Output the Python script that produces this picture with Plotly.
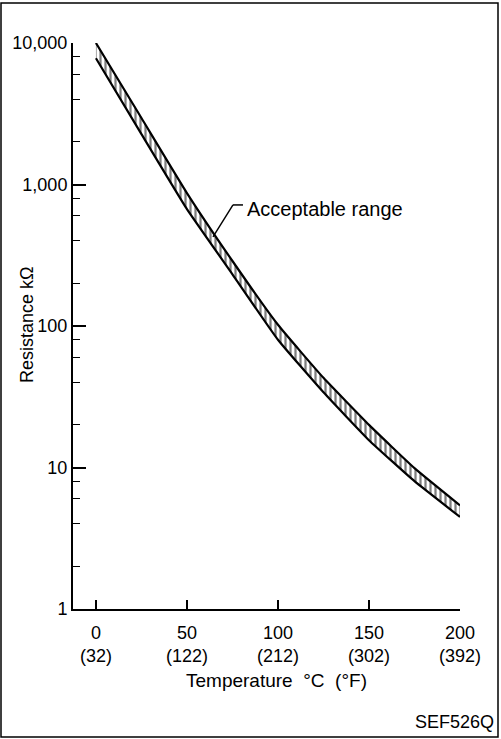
import math

import plotly.graph_objects as go

# temperature (deg C) and resistance band edges (kOhm)
temp_c = [0, 25, 50, 75, 100, 125, 150, 175, 200]
upper_kohm = [10000, 2950, 870, 288, 102, 43, 20, 9.9, 5.4]
lower_kohm = [7800, 2270, 670, 232, 80, 34, 15.6, 8.0, 4.47]

x_ticks = [0, 50, 100, 150, 200]
x_tick_text = ["0<br>(32)", "50<br>(122)", "100<br>(212)", "150<br>(302)", "200<br>(392)"]
y_ticks = [1, 10, 100, 1000, 10000]
y_tick_text = ["1", "10", "100", "1,000", "10,000"]
y_minor = [m * 10 ** d for d in range(4) for m in (2, 4, 6, 8)]

# point on the band the "Acceptable range" leader touches
label_temp = 64.3
label_kohm = 426

FONT = "Liberation Sans, Arial, sans-serif"

# plot area in pixels (501 x 739 page)
W, H = 501, 739
L, R, T, B = 73, 41, 43, 130
pw, ph = W - L - R, H - T - B


def px(x):
    return (x - L) / pw


def py(y):
    return (H - B - y) / ph


fig = go.Figure()
fig.add_trace(
    go.Scatter(
        x=temp_c,
        y=lower_kohm,
        mode="lines",
        line=dict(color="black", width=2.2, shape="spline", smoothing=0.4),
        showlegend=False,
        hoverinfo="skip",
    )
)
fig.add_trace(
    go.Scatter(
        x=temp_c,
        y=upper_kohm,
        mode="lines",
        fill="tonexty",
        fillcolor="white",
        fillpattern=dict(shape="|", fgcolor="black", bgcolor="white", size=5, solidity=0.45),
        line=dict(color="black", width=2.2, shape="spline", smoothing=0.4),
        showlegend=False,
        hoverinfo="skip",
    )
)

leader = dict(color="black", width=1.5)

fig.update_layout(
    width=W,
    height=H,
    margin=dict(l=L, r=R, t=T, b=B, pad=0),
    paper_bgcolor="white",
    plot_bgcolor="white",
    font=dict(family=FONT, size=18, color="black"),
    xaxis=dict(
        range=[-12.6, 200],
        tickvals=x_ticks,
        ticktext=x_tick_text,
        ticks="inside",
        ticklen=9,
        tickwidth=1.5,
        tickcolor="black",
        showline=True,
        linecolor="black",
        linewidth=2,
        showgrid=False,
        zeroline=False,
        ticklabelstandoff=6,
        tickfont=dict(size=18),
    ),
    yaxis=dict(
        type="log",
        range=[0, 4],
        tickvals=y_ticks,
        ticktext=y_tick_text,
        ticks="inside",
        ticklen=13,
        tickwidth=1.5,
        tickcolor="black",
        showline=True,
        linecolor="black",
        linewidth=2,
        showgrid=False,
        zeroline=False,
        tickfont=dict(size=18),
        minor=dict(tickvals=y_minor, ticks="inside", ticklen=7, tickwidth=1.3,
                   tickcolor="black", showgrid=False),
    ),
    annotations=[
        dict(
            text="Resistance kΩ",
            xref="paper", yref="paper",
            x=px(27), y=py(325),
            xanchor="center", yanchor="middle",
            textangle=-90,
            showarrow=False,
            font=dict(size=18),
        ),
        dict(
            text="Temperature\u00a0 °C\u00a0 (°F)",
            xref="paper", yref="paper",
            x=px(276), y=py(680),
            xanchor="center", yanchor="middle",
            showarrow=False,
            font=dict(size=19),
        ),
        dict(
            text="Acceptable range",
            x=label_temp, y=math.log10(label_kohm),
            xref="x", yref="y",
            xanchor="left", yanchor="middle",
            xshift=32, yshift=28,
            showarrow=False,
            font=dict(size=20),
        ),
        dict(
            text="SEF526Q",
            xref="paper", yref="paper",
            x=px(496), y=py(722),
            xanchor="right", yanchor="middle",
            showarrow=False,
            font=dict(size=18),
        ),
    ],
    shapes=[
        # leader line: diagonal up from the band, then a short horizontal
        dict(type="line", xref="x", yref="y", xsizemode="pixel", ysizemode="pixel",
             xanchor=label_temp, yanchor=label_kohm, x0=0, y0=0, x1=20, y1=32, line=leader),
        dict(type="line", xref="x", yref="y", xsizemode="pixel", ysizemode="pixel",
             xanchor=label_temp, yanchor=label_kohm, x0=20, y0=32, x1=30, y1=32, line=leader),
        dict(
            type="rect", xref="paper", yref="paper",
            x0=px(1), x1=px(498), y0=py(737), y1=py(3),
            line=dict(color="black", width=1.5),
        ),
    ],
)

# drop the default body margin so the figure sits at the page corner
fig.write_html(
    "out.html",
    config={"displayModeBar": False},
    post_script="document.body.style.margin = '0';",
)
